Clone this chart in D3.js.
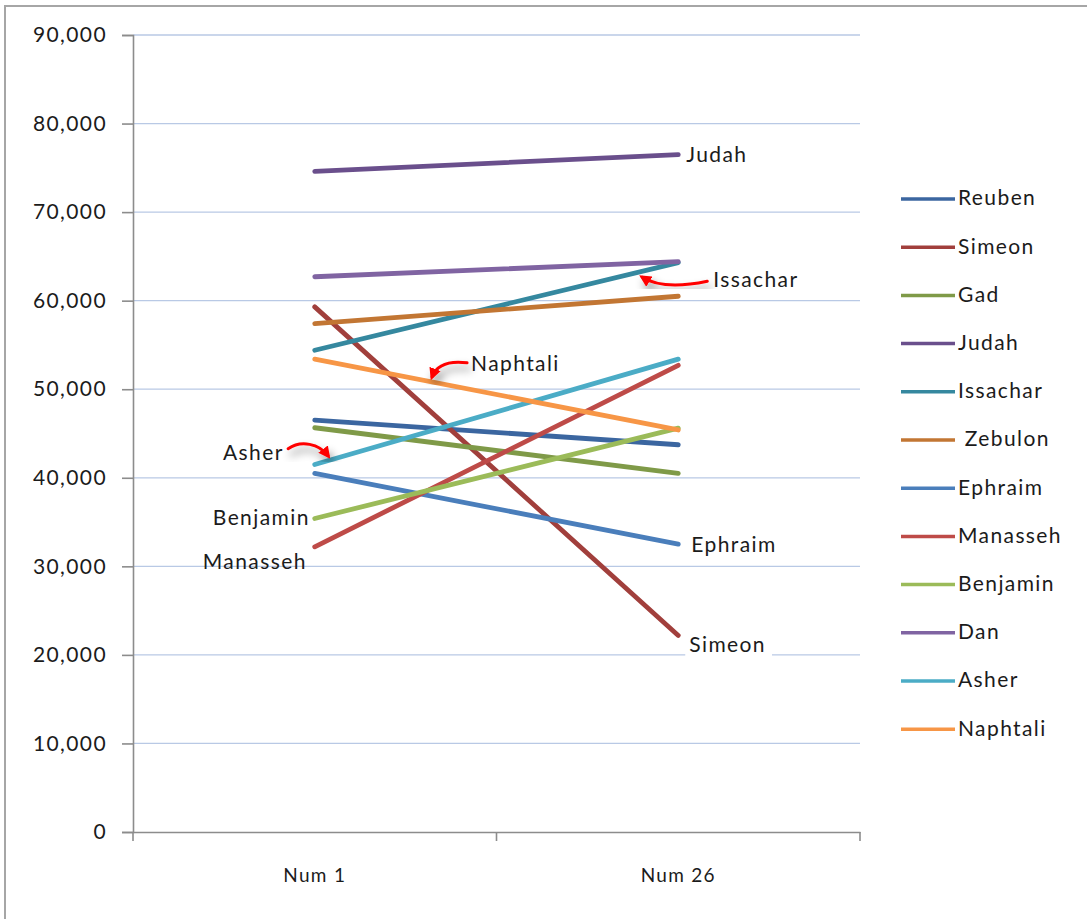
<!DOCTYPE html>
<html>
<head>
<meta charset="utf-8">
<script src="https://cdn.jsdelivr.net/npm/d3@7"></script>
<style>
  body { margin: 0; background: #fff; }
  svg { display: block; }
  text { font-family: Lato, "Noto Sans", sans-serif; fill: #1b1b1b; }
</style>
</head>
<body>
<svg id="chart" width="1087" height="919"></svg>
<script>
// Census of the tribes: Numbers 1 vs Numbers 26
const tribes = ["Reuben", "Simeon", "Gad", "Judah", "Issachar", " Zebulon",
                "Ephraim", "Manasseh", "Benjamin", "Dan", "Asher", "Naphtali"];
const num1  = [46500, 59300, 45650, 74600, 54400, 57400, 40500, 32200, 35400, 62700, 41500, 53400];
const num26 = [43730, 22200, 40500, 76500, 64300, 60500, 32500, 52700, 45600, 64400, 53400, 45400];
const periods = ["Num 1", "Num 26"];
const yTicks = [0, 10000, 20000, 30000, 40000, 50000, 60000, 70000, 80000, 90000];
const tribeColors = ["#3b66a0", "#a13f3c", "#7f9a48", "#6a4f8c", "#35889f", "#c27633",
                     "#4a7ebb", "#be4b48", "#9bbb59", "#8064a2", "#4bacc6", "#f79646"];

const FONT = "Lato, 'Noto Sans', sans-serif";
const SIZE = 21;
const SPACING = 1.4;

const svg = d3.select("#chart");

// outer frame of the chart object
svg.append("path")
  .attr("d", "M5,919 V6 H1087")
  .attr("fill", "none").attr("stroke", "#a6a6a6").attr("stroke-width", 2);

const plot = { left: 133, right: 860, top: 35, bottom: 832 };

const x = d3.scaleBand().domain(periods).range([plot.left, plot.right]);
const y = d3.scaleLinear().domain([0, 90000]).range([plot.bottom, plot.top]);
const cx = p => x(p) + x.bandwidth() / 2;

const defs = svg.append("defs");
const shadow = defs.append("filter").attr("id", "soft-shadow")
  .attr("x", "-50%").attr("y", "-50%").attr("width", "200%").attr("height", "200%");
shadow.append("feDropShadow")
  .attr("dx", 3).attr("dy", 6).attr("stdDeviation", 4.5)
  .attr("flood-color", "#000").attr("flood-opacity", 0.45);
defs.append("marker").attr("id", "arrowhead")
  .attr("viewBox", "0 0 10 10").attr("refX", 7).attr("refY", 5)
  .attr("markerWidth", 4).attr("markerHeight", 4).attr("orient", "auto")
  .append("path").attr("d", "M0,0 L10,5 L0,10 Z").attr("fill", "#ff0000");

// gridlines
svg.append("g")
  .selectAll("line").data(yTicks.filter(t => t > 0)).join("line")
  .attr("x1", plot.left).attr("x2", plot.right)
  .attr("y1", d => y(d)).attr("y2", d => y(d))
  .attr("stroke", "#b9c9e5").attr("stroke-width", 1.3);

// y axis
const yAxis = svg.append("g").attr("transform", `translate(${plot.left},0)`)
  .call(d3.axisLeft(y).tickValues(yTicks).tickSize(11).tickPadding(15)
        .tickFormat(d3.format(",")));
yAxis.select(".domain").attr("stroke", "#8c8c8c").attr("stroke-width", 1.6);
yAxis.selectAll(".tick line").attr("stroke", "#8c8c8c").attr("stroke-width", 1.6);
yAxis.selectAll(".tick text").attr("font-size", SIZE).attr("fill", "#1b1b1b")
  .attr("letter-spacing", SPACING).style("font-family", FONT);

// x axis
const xAxis = svg.append("g").attr("transform", `translate(0,${plot.bottom})`)
  .call(d3.axisBottom(x).tickSize(0).tickPadding(37));
xAxis.select(".domain").attr("stroke", "#8c8c8c").attr("stroke-width", 1.6);
xAxis.selectAll(".tick text").attr("font-size", 19).attr("fill", "#1b1b1b")
  .attr("letter-spacing", 1.3).style("font-family", FONT);
svg.append("g").selectAll("line")
  .data([plot.left, plot.left + x.bandwidth(), plot.right]).join("line")
  .attr("x1", d => d).attr("x2", d => d)
  .attr("y1", plot.bottom).attr("y2", plot.bottom + 9)
  .attr("stroke", "#8c8c8c").attr("stroke-width", 1.6);

// series lines
const series = tribes.map((name, i) => ({
  name, color: tribeColors[i], values: [num1[i], num26[i]]
}));
const line = d3.line().x((d, j) => cx(periods[j])).y(d => y(d));
svg.append("g").selectAll("path").data(series).join("path")
  .attr("d", d => line(d.values))
  .attr("fill", "none").attr("stroke", d => d.color)
  .attr("stroke-width", 4.8).attr("stroke-linecap", "round");

// point on a tribe's line, t = 0 at Num 1 and 1 at Num 26
function along(name, t) {
  const s = series.find(d => d.name.trim() === name);
  const x0 = cx(periods[0]), x1 = cx(periods[1]);
  return [x0 + (x1 - x0) * t, y(s.values[0] + (s.values[1] - s.values[0]) * t)];
}

// direct labels
function label(text, px, py, anchor, boxed) {
  const g = svg.append("g");
  const t = g.append("text").attr("x", px).attr("y", py)
    .attr("text-anchor", anchor).attr("dominant-baseline", "middle")
    .attr("font-size", SIZE).attr("letter-spacing", SPACING).text(text);
  if (boxed) {
    const b = t.node().getBBox();
    g.insert("rect", "text").attr("x", b.x - 4).attr("y", b.y - 2)
      .attr("width", b.width + 10).attr("height", b.height + 6).attr("fill", "#fff");
  }
}
const x1 = cx(periods[0]), x2 = cx(periods[1]);
const s = name => series.find(d => d.name.trim() === name).values;
label("Judah", x2 + 8, y(s("Judah")[1]) + 2, "start");
label("Ephraim", x2 + 13, y(s("Ephraim")[1]) + 2, "start");
label("Simeon", x2 + 11, y(s("Simeon")[1]) + 11, "start", true);
label("Benjamin", x1 - 5, y(s("Benjamin")[0]) + 1, "end");
label("Manasseh", x1 - 8, y(s("Manasseh")[0]) + 17, "end");
label("Asher", x1 - 31, y(s("Asher")[0]) - 10, "end");
label("Naphtali", along("Naphtali", 0.43)[0], along("Naphtali", 0.43)[1] - 24, "start");
label("Issachar", x2 + 35, y(s("Issachar")[1]) + 19, "start");

// red callout arrows
const arrows = [
  { tip: along("Asher", 0.045), d: ([tx, ty]) =>
      `M${tx - 43},${ty - 11} C${tx - 30},${ty - 20} ${tx - 12},${ty - 16} ${tx - 3},${ty - 4}` },
  { tip: along("Naphtali", 0.32), d: ([tx, ty]) =>
      `M${tx + 36},${ty - 19} C${tx + 20},${ty - 21} ${tx + 6},${ty - 18} ${tx + 1},${ty - 5}` },
  { tip: along("Issachar", 0.89), d: ([tx, ty]) =>
      `M${tx + 69},${ty + 9} C${tx + 45},${ty + 14} ${tx + 20},${ty + 15} ${tx + 4},${ty + 5}` }
];
svg.append("g").selectAll("path").data(arrows).join("path")
  .attr("d", a => a.d(a.tip))
  .attr("fill", "none").attr("stroke", "#ff0000").attr("stroke-width", 3)
  .attr("stroke-linecap", "round")
  .attr("marker-end", "url(#arrowhead)")
  .attr("filter", "url(#soft-shadow)");

// legend
const legend = svg.append("g").attr("transform", "translate(901,199)");
const rows = legend.selectAll("g").data(series).join("g")
  .attr("transform", (d, i) => `translate(0,${i * 48.2})`);
rows.append("line").attr("x1", 0).attr("x2", 54).attr("y1", 0).attr("y2", 0)
  .attr("stroke", d => d.color).attr("stroke-width", 3.5);
rows.append("text").attr("x", 57).attr("y", 1).attr("dominant-baseline", "middle")
  .attr("font-size", SIZE).attr("letter-spacing", SPACING)
  .style("white-space", "pre").text(d => d.name);
</script>
</body>
</html>
